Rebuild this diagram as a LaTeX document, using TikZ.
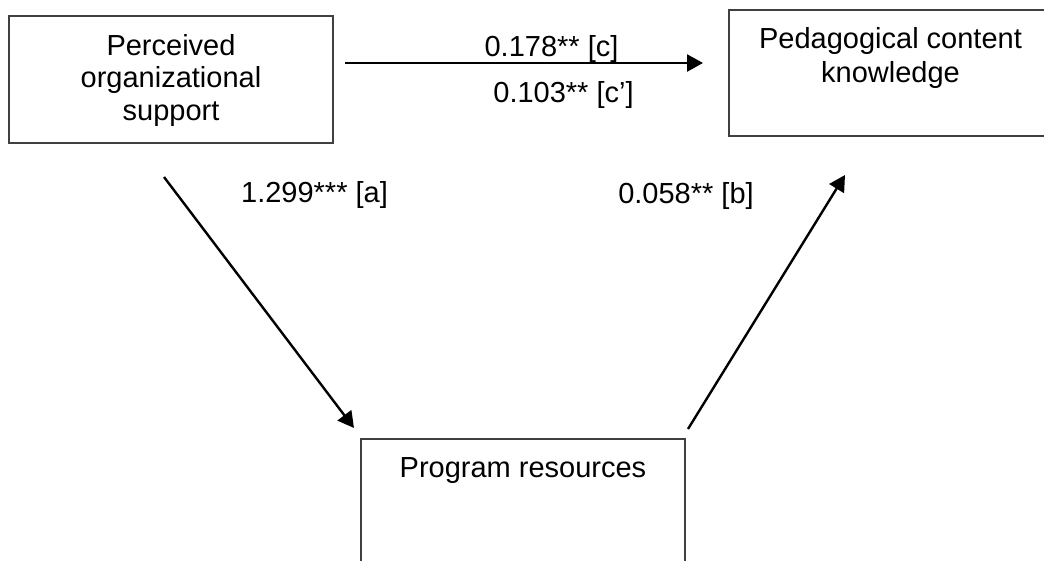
\documentclass[tikz,border=0pt]{standalone}
\usepackage{fontspec}
\setmainfont{Liberation Sans}
\usetikzlibrary{arrows.meta}
\begin{document}
\begin{tikzpicture}[x=1pt,y=-1pt,
  box/.style={draw=black!75, line width=1.6pt, inner sep=0pt},
  lbl/.style={font=\fontsize{29}{32.5}\selectfont, anchor=base, inner sep=0pt, align=center},
  conn/.style={line width=2.4pt, -{Triangle[length=16pt,width=17pt]}}]
\useasboundingbox (0,0) rectangle (1044,560);
\clip (0,0) rectangle (1044,560);
% boxes
\node[box, minimum width=324pt, minimum height=127pt] (pos) at (171,79.5) {};
\node[box, minimum width=323pt, minimum height=126pt] (pck) at (890.5,73) {};
\node[box, minimum width=324pt, minimum height=127pt] (pr) at (523,502.5) {};
% box texts (base anchor = baseline of the last line)
\node[lbl] (posT) at (171,120) {Perceived\\organizational\\support};
\node[lbl, font=\fontsize{29}{34.5}\selectfont] (pckT) at (890.5,82.5) {Pedagogical content\\knowledge};
\node[lbl] (prT) at (523,477) {Program resources};
% connector ends
\coordinate (c1) at (345,63);
\coordinate (c2) at (703,63);
\coordinate (a1) at (164,177);
\coordinate (a2) at (354,428);
\coordinate (b1) at (688,429);
\coordinate (b2) at (845,175);
\draw[conn] (c1) -- (c2);
\draw[conn] (a1) -- (a2);
\draw[conn] (b1) -- (b2);
% labels
\node[lbl] (lc) at (551.5,56) {0.178** [c]};
\node[lbl] (lcp) at (563.5,102) {0.103** [c’]};
\node[lbl] (la) at (314.5,202.5) {1.299*** [a]};
\node[lbl] (lb) at (686,203.5) {0.058** [b]};
\end{tikzpicture}
\end{document}
